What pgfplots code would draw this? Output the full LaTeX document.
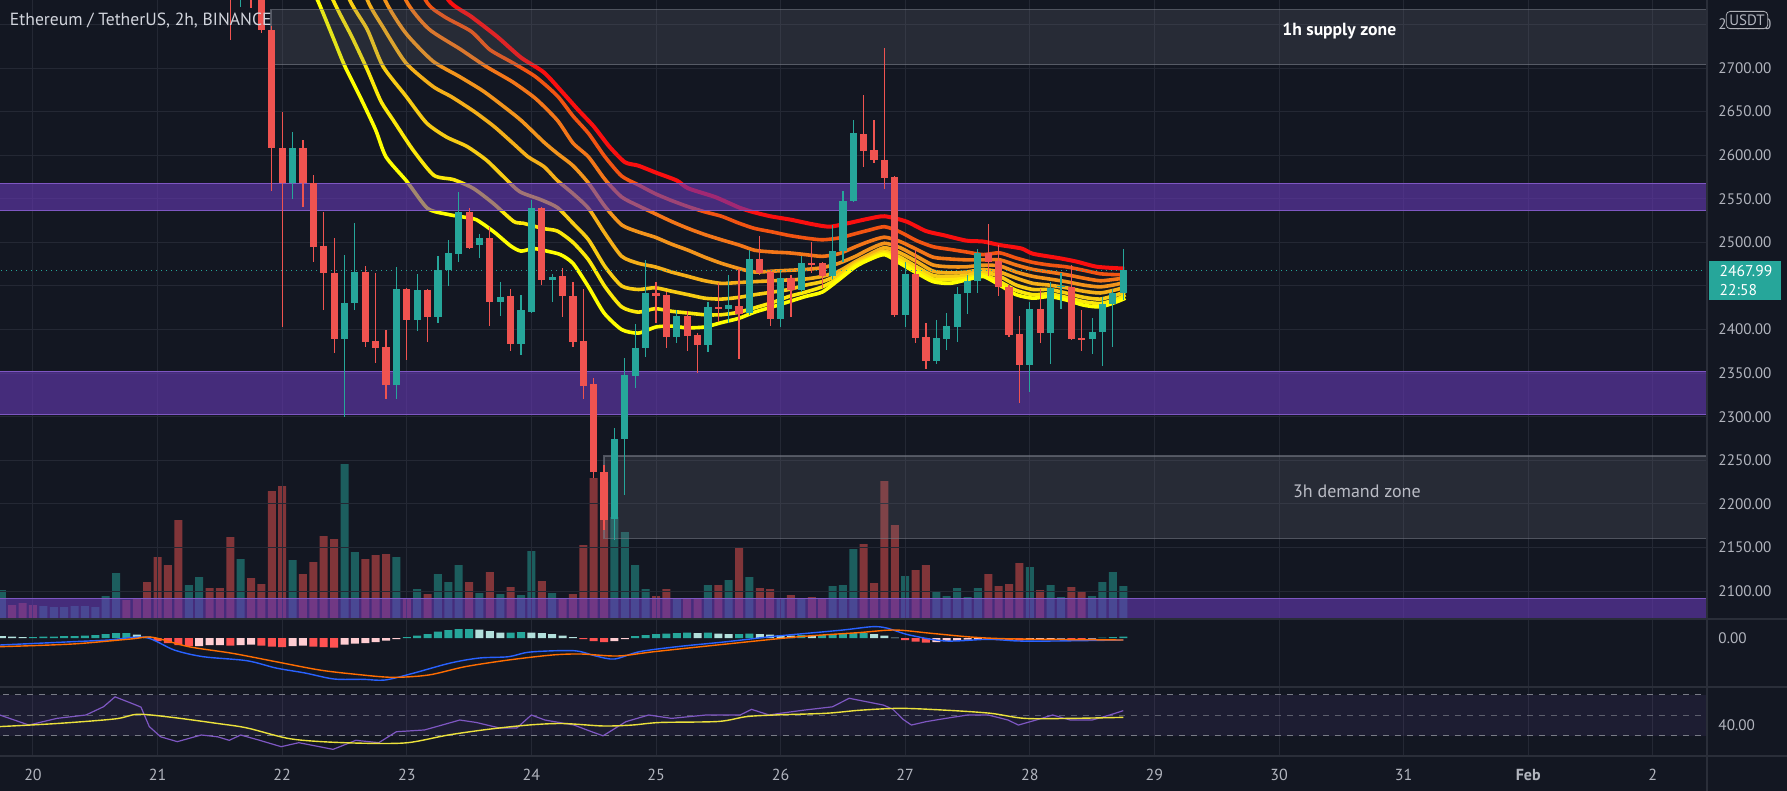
\documentclass[border=0pt]{standalone}
\usepackage{fontspec}
\setmainfont{PT Sans}
\usepackage{pgfplots}
\usepackage{pgfplotstable}
\pgfplotsset{compat=1.18}
\definecolor{bg}{RGB}{19,23,34}
\definecolor{gridc}{RGB}{36,40,52}
\definecolor{sepc}{RGB}{42,46,57}
\definecolor{txt}{RGB}{178,181,190}
\definecolor{titlec}{RGB}{209,212,220}
\definecolor{up}{RGB}{38,166,154}
\definecolor{down}{RGB}{239,83,80}
\definecolor{pband}{RGB}{103,58,183}
\definecolor{pedge}{RGB}{126,87,194}
\definecolor{zgray}{RGB}{120,123,134}
\definecolor{mblue}{RGB}{41,98,255}
\definecolor{morange}{RGB}{255,109,0}
\definecolor{hlight}{RGB}{178,223,219}
\definecolor{hpink}{RGB}{255,205,210}
\definecolor{hred}{RGB}{255,82,82}
\definecolor{rsip}{RGB}{126,87,194}
\definecolor{rsiy}{RGB}{235,225,60}
\definecolor{rA}{RGB}{255,255,0}
\definecolor{rB}{RGB}{252,232,10}
\definecolor{rC}{RGB}{248,204,20}
\definecolor{rD}{RGB}{245,175,25}
\definecolor{rE}{RGB}{243,148,28}
\definecolor{rF}{RGB}{243,118,25}
\definecolor{rG}{RGB}{242,84,18}
\definecolor{rH}{RGB}{250,15,15}

\pgfplotstableread{
c o h l cl
19 2810 2830 2732 2785
21 2800 2815 2769 2790
22 2790 2800 2740 2743.6
23 2743.6 2748 2559 2608.6
24 2608 2650 2403 2568
26 2608 2617 2541 2568
27 2568 2577 2478 2495
28 2496 2535 2423 2465
29 2465 2505 2373 2389
32 2466 2473 2380 2386
33 2387 2465 2362 2379
34 2380 2400 2320 2336
36 2447 2448 2365 2411
38 2445 2447 2386 2415
42 2535 2539 2493 2494
44 2505 2518 2404 2432
46 2438 2447 2376 2383
49 2540 2541 2451 2457
51 2461 2471 2415 2438
52 2439 2455 2380 2386
53 2387 2447 2320 2335
54 2338 2344 2230 2237
55 2237 2245 2170 2182
60 2442 2455 2407 2438
61 2440 2443 2379 2391
63 2416 2421 2376 2393
64 2394 2396 2350 2382
66 2426 2454 2409 2424
68 2427 2470 2366 2418
70 2481 2507 2463 2465
71 2466 2468 2404 2412
73 2459 2463 2414 2445
75 2476 2501 2465 2475
76 2476 2478 2448 2461
80 2624 2669 2587 2605
81 2606 2640 2591 2595
82 2595 2723 2561 2574
83 2575 2576 2414 2417
85 2464 2491 2385 2390
86 2391 2408 2355 2364
92 2488 2521 2461 2478
93 2479 2497 2438 2449
94 2449 2451 2391 2394
95 2395 2416 2316 2359
97 2424 2446 2385 2396
100 2449 2474 2388 2389
101 2390 2422 2375 2388
}\cdown
\pgfplotstableread{
c o h l cl
20 2785 2810 2770 2800
25 2568 2627 2550 2608
30 2389 2485 2300 2431
31 2431 2522 2423 2466
35 2336 2472 2320 2447
37 2411 2464 2398 2445
39 2415 2484 2407 2468
40 2468 2503 2450 2488
41 2487 2558 2478 2535
43 2497 2510 2482 2505
45 2432 2455 2416 2437
47 2383 2440 2371 2422
48 2420 2549 2419 2540
50 2457 2464 2432 2460
56 2183 2287 2159 2274
57 2274 2367 2210 2348
58 2347 2406 2333 2379
59 2379 2480 2369 2442
62 2391 2423 2385 2416
65 2382 2432 2374 2426
67 2424 2463 2408 2428
69 2419 2491 2417 2481
72 2412 2468 2403 2459
74 2445 2484 2443 2476
77 2462 2520 2458 2490
78 2490 2559 2478 2548
79 2548 2640 2546 2625
84 2417 2477 2403 2464
87 2364 2411 2361 2390
88 2389 2419 2377 2404
89 2403 2449 2386 2441
90 2442 2463 2418 2456
91 2456 2493 2442 2488
96 2359 2432 2329 2424
98 2396 2455 2360 2448
99 2449 2465 2424 2450
102 2389 2413 2372 2397
103 2397 2437 2358 2429
104 2429 2447 2380 2442
105 2442 2492 2434 2467.99
}\cup

\pgfplotstableread{
c v
-2 14
-1 16
0 14
9 19
10 20
11 37
12 62
13 54
14 99
17 31
18 31
19 82
21 41
22 35
23 128
24 133
26 45
27 57
28 83
29 80
32 60
33 64
34 65
36 20
38 25
42 37
44 47
46 32
49 38
51 21
52 25
53 74
54 141
55 137
60 23
61 30
63 20
64 20
66 34
68 72
70 31
71 30
73 24
75 22
76 20
80 75
81 36
82 138
83 94
85 49
86 54
92 45
93 33
94 35
95 56
97 29
100 32
101 28
}\vdown
\pgfplotstableread{
c v
-3 29
1 13
2 12
3 12
4 13
5 13
6 12
7 23
8 46
15 34
16 42
20 60
25 59
30 155
31 67
35 62
37 30
39 45
40 37
41 54
43 26
45 25
47 24
48 68
50 26
56 102
57 87
58 54
59 30
62 20
65 34
67 39
69 42
72 21
74 21
77 33
78 34
79 70
84 43
87 27
88 23
89 31
90 22
91 31
96 52
98 34
99 22
102 23
103 37
104 47
105 33
}\vup

% EMA ribbon lines
\pgfplotstableread{
c p
24 2870
26 2810
27.4 2778
29 2732
30 2703
31.5 2667
33 2629
34 2598
36 2570
38 2539
40 2532
41.5 2529
42.7 2526
44.4 2512
46 2496
47 2490
48.2 2493
49.5 2490
50.8 2486
52 2476
53.5 2449
55 2419
56.7 2400
58.3 2396
60 2403
61.5 2404
63 2402
64.7 2403
66.3 2408
68 2413
69.5 2420
71.2 2426
72.8 2432
74.4 2438
76 2443
77.6 2457
79.2 2472
80.5 2480
82 2486
83.5 2476
85.1 2465
86.7 2455
88.3 2453
89.9 2457
91.5 2461
93.1 2451
94.7 2440
96.3 2436
97.9 2438
99.5 2434
101.2 2428
102.8 2426
104.4 2432
105.2 2436
}\ribA
\pgfplotstableread{
c p
26 2860
28.9 2778
30.7 2736
32.2 2698
33.5 2662
34.7 2640
36.6 2606
38.6 2577
40.5 2572
42.4 2562
44.3 2545
46.3 2524
47.2 2522
49.1 2516
50.5 2513
52 2500
53.5 2480
55.1 2449
56.7 2426
58.3 2420
59.9 2424
61.5 2421
63.1 2419
64.7 2417
66.3 2417
68 2420
69.5 2425
71.2 2431
72.8 2438
74.4 2443
76 2449
77.6 2459
79.2 2474
80.5 2481
82 2488
83.5 2479
85.1 2468
86.7 2458
88.3 2457
89.9 2459
91.5 2463
93.1 2455
94.7 2445
96.3 2440
97.9 2441
99.5 2437
101.2 2432
102.8 2430
104.4 2435
105.2 2440
}\ribB
\pgfplotstableread{
c p
28 2850
30.5 2778
32.2 2744
33.7 2702
35.9 2668
37.9 2637
39.8 2621
41.8 2610
43.7 2594
45.6 2572
46.9 2558
48.9 2549
50.5 2540
52 2522
53.5 2503
55.1 2472
56.7 2450
58.3 2446
59.9 2448
61.5 2444
63.1 2440
64.7 2436
66.3 2435
68 2437
69.5 2440
71.2 2443
72.8 2446
74.4 2451
76 2455
77.6 2463
79.2 2476
80.5 2483
82 2490
83.5 2483
85.1 2472
86.7 2462
88.3 2461
89.9 2462
91.5 2466
93.1 2461
94.7 2451
96.3 2446
97.9 2446
99.5 2442
101.2 2437
102.8 2435
104.4 2440
105.2 2443.5
}\ribC
\pgfplotstableread{
c p
30 2850
32.2 2778
33.7 2747
35.9 2706
38.5 2679
40.3 2667
42.5 2650
44.4 2633
46.2 2614
47.7 2598
49.2 2587
50.5 2571
52 2556
53.5 2539
55.1 2510
56.7 2484
58.3 2476
59.9 2472
61.5 2466
63.1 2461
64.7 2456
66.3 2453
68 2454
69.5 2455
71.2 2456
72.8 2457
74.4 2458
76 2461
77.6 2467
79.2 2478
80.5 2486
82 2494
83.5 2488
85.1 2478
86.7 2467
88.3 2465
89.9 2466
91.5 2469
93.1 2466
94.7 2459
96.3 2453
97.9 2451
99.5 2448
101.2 2444
102.8 2442
104.4 2446
105.2 2449
}\ribD
\pgfplotstableread{
c p
31.5 2850
33.9 2778
35.9 2740
38.5 2708
41.1 2690
43.3 2674
45.1 2658
47 2640
49.2 2615
50.5 2602
52 2588
53.5 2568
55.1 2541
56.7 2520
58.3 2512
59.9 2506
61.5 2498
63.1 2491
64.7 2483
66.3 2476
68 2470
69.5 2466
71.2 2467
72.8 2468
74.4 2469
76 2471
77.6 2476
79.2 2484
80.5 2492
82 2499
83.5 2494
85.1 2484
86.7 2474
88.3 2472
89.9 2472
91.5 2474
93.1 2473
94.7 2466
96.3 2461
97.9 2458
99.5 2455
101.2 2451
102.8 2449
104.4 2452
105.2 2455
}\ribE
\pgfplotstableread{
c p
33.5 2850
35.9 2778
38.1 2745
41.1 2722
43.6 2702
46.2 2684
48.4 2665
50.5 2640
52 2614
53.5 2598
55.1 2572
56.7 2552
58.3 2542
59.9 2533
61.5 2524
63.1 2516
64.7 2509
66.3 2503
68 2497
69.5 2491
71.2 2489
72.8 2488
74.4 2486
76 2484
77.6 2487
79.2 2495
80.5 2501
82 2506
83.5 2501
85.1 2492
86.7 2483
88.3 2481
89.9 2480
91.5 2480
93.1 2480
94.7 2474
96.3 2469
97.9 2466
99.5 2463
101.2 2459
102.8 2456
104.4 2458
105.2 2459
}\ribF
\pgfplotstableread{
c p
35.5 2850
37.8 2778
39.6 2759
42.2 2742
44 2721
46.2 2706
48.4 2690
50.5 2668
52 2645
53.5 2625
55.1 2598
56.7 2576
58.3 2566
59.9 2556
61.5 2548
63.1 2541
64.7 2535
66.3 2530
68 2522
69.5 2516
71.2 2512
72.8 2508
74.4 2505
76 2503
77.6 2505
79.2 2510
80.5 2514
82 2518
83.5 2512
85.1 2502
86.7 2495
88.3 2492
89.9 2489
91.5 2486
93.1 2488
94.7 2482
96.3 2477
97.9 2474
99.5 2472
101.2 2468
102.8 2464
104.4 2463
105.2 2463
}\ribG
\pgfplotstableread{
c p
38 2830
40 2778
42.2 2759
44.7 2736
47 2712
49.2 2695
51 2672
52.5 2652
54 2633
55.5 2610
57 2592
58.3 2588
60 2580
62 2571
63.1 2562
65.7 2552
68 2540
69.3 2535
71 2530
73 2526
75 2521
76.7 2518
78.5 2522
80.4 2527
82 2530
84.1 2524
86 2513
87.8 2508
89.9 2502
91.5 2501
93.1 2497
95.2 2493
96.3 2487
98.8 2482
100.5 2478
102.5 2472
105.1 2470
}\ribH

% MACD histogram (by colour) and lines
\pgfplotstableread{
c v
0 1
1 1.5
2 1.5
3 2
4 2
5 2.5
6 3
7 4
8 5
9 5
36 1
37 2.5
38 4
39 6.5
40 8
41 9
42 9
46 5.5
47 6
58 2
59 3
60 4
61 4.5
62 5
63 5.5
65 5.5
68 4
69 4.5
74 3
76 3
77 3.5
78 4
79 5
80 5
103 0.5
104 1
105 1.5
}\hteal
\pgfplotstableread{
c v
-3 2
-2 1.5
-1 1
10 3.5
11 1.5
43 8.5
44 7
45 5.5
48 5.5
49 5
50 4
51 2.5
52 1
64 5
66 4.5
67 4
70 4
71 3.5
72 3
73 2.5
75 2.5
81 4
82 2.5
83 0.5
}\hlighttab
\pgfplotstableread{
c v
12 -3
13 -5
14 -7
15 -8
19 -7.5
22 -7.5
23 -8.5
24 -9
27 -8.5
28 -9
29 -9.5
53 -1
54 -3
55 -4
84 -2
85 -3.5
86 -4.5
92 -1.5
93 -2
94 -2
95 -2.5
100 -1
101 -1
}\hredtab
\pgfplotstableread{
c v
16 -8
17 -7
18 -7
20 -7
21 -6.5
25 -8
26 -7.5
30 -6.5
31 -5.5
32 -5
33 -4
34 -2.5
35 -1
56 -3
57 -1
87 -4
88 -3
89 -2.5
90 -1.5
91 -1
96 -2
97 -1.5
98 -1
99 -0.5
102 -0.5
}\hpinktab
\pgfplotstableread{
c v
-3.2 -7
3.8 -3.7
7.3 -2
10.8 0.7
13.6 -12
16.4 -18.7
20.6 -22.7
23.4 -30
26.2 -35
29 -41
31.8 -41.3
33.9 -42
36.7 -35
40.2 -25
43 -20
45.8 -18.7
47.9 -14
52.1 -12.7
54.2 -18
56 -21
58.4 -13.7
62 -8.7
66.8 -3.7
71 1.3
73.8 4
78 8
80.8 11.3
82.2 10
84.4 3
87.9 -3
92 -1.3
94.9 -3
98.4 -3
105 -2
}\macdline
\pgfplotstableread{
c v
-3.2 -8.7
3.8 -6
9.4 -1
11.5 0.7
15 -8.7
19.2 -15.3
23.4 -23.7
27.6 -32
31.1 -36.3
34.6 -39.3
38.1 -37
41.6 -28.7
45.8 -22
50 -17
52.8 -16
56.3 -18
59.8 -13.7
66.8 -6
73.8 1.3
79.4 5.3
83 8
86.5 4.7
90.7 0.7
94.9 -1
105 -2
}\sigline

% RSI and its average
\pgfplotstableread{
c v
-3.2 50.3
-0.4 40.5
2.3 47
5.1 50.3
6.8 58.4
7.9 68
9.5 61.7
10.4 58
11.2 39
12.3 29
13.9 24.3
16.2 30.8
17.8 29
18.9 25.6
20 30.8
21.7 26
23.9 19.4
25.6 23.3
28.9 16.8
31.1 25.6
33.3 23.3
35 34
37.7 35.7
39.4 40.5
41.1 45.4
42.7 43
44.9 37.7
46.6 37.7
48 50.3
49.3 45.4
52.1 40.5
53.8 34
54.9 30
57.1 43.8
59.3 50.3
61.5 47
63.2 48.7
64.8 50.3
68.1 50.3
69.2 55.8
70.9 50.3
72 52
74.2 55
77 58.3
78.6 66.6
81.9 60
82.8 56
83.8 46
84.6 40.5
86 43.8
87.9 47
90 50.3
92 50.3
93.9 45.4
94.9 40.5
96.6 45.4
98.2 50.3
99.9 45.4
102 45.4
103.7 50.3
105 54.5
}\rsiline
\pgfplotstableread{
c v
-3.2 39
2.3 42
7.9 46.5
10.1 51
13.4 48
17.8 42
20.6 37.7
24.5 27.6
27.8 24.3
32.2 22.7
36.1 23.3
40 30.8
43.8 36.3
47.7 40.5
51 42
54.9 39.6
57.7 40.5
60.4 43
66 44
68.7 48.7
71.4 50.3
76.4 52
79.7 55
83.5 56.8
87.9 55
92.2 52
95.5 47
99.9 47
105 48
}\rsima

\pgfplotsset{
  tvaxis/.style={scale only axis, anchor=north west, width=853.5pt,
    xmin=-3.178, xmax=161.22, axis line style={draw=none},
    major tick length=0pt, xtick={0,12,...,156}, xticklabels={},
    yticklabel pos=right,
    yticklabel style={anchor=west, xshift=2.2pt, text=txt, font=\fontsize{7.6}{9}\selectfont},
    major grid style={draw=gridc, line width=0.5pt}},
  wick/.style={draw=none, mark=none, forget plot, error bars/.cd, y dir=both, y explicit, error mark=none,
    error bar style={draw=#1, line width=0.6pt}},
  body/.style={draw=none, mark=none, forget plot, error bars/.cd, y dir=both, y explicit, error mark=none,
    error bar style={draw=#1, line width=3.6pt}},
}

\begin{document}
\begin{tikzpicture}
\fill[bg] (0pt,0pt) rectangle (893.5pt,-395.5pt);

% volume
\begin{axis}[tvaxis, at={(0pt,0pt)}, height=309.5pt, ymin=0, ymax=619, ytick=\empty, yticklabels={}]
\addplot[ybar, bar width=4pt, fill=down, fill opacity=0.5, draw=none] table[x=c,y=v]{\vdown};
\addplot[ybar, bar width=4pt, fill=up, fill opacity=0.5, draw=none] table[x=c,y=v]{\vup};
\end{axis}

% price pane
\begin{axis}[tvaxis, at={(0pt,0pt)}, height=309.5pt, ymin=2068.1, ymax=2778,
  ytick={2100,2150,...,2750},
  yticklabels={2100.00,2150.00,2200.00,2250.00,2300.00,2350.00,2400.00,{},2500.00,2550.00,2600.00,2650.00,2700.00,2750.00},
  grid=major]
\addplot[rH, line width=2pt, smooth, tension=0.4] table[x=c,y=p]{\ribH};
\addplot[rG, line width=1.8pt, smooth, tension=0.4] table[x=c,y=p]{\ribG};
\addplot[rF, line width=1.8pt, smooth, tension=0.4] table[x=c,y=p]{\ribF};
\addplot[rE, line width=1.8pt, smooth, tension=0.4] table[x=c,y=p]{\ribE};
\addplot[rD, line width=1.8pt, smooth, tension=0.4] table[x=c,y=p]{\ribD};
\addplot[rC, line width=1.8pt, smooth, tension=0.4] table[x=c,y=p]{\ribC};
\addplot[rB, line width=1.8pt, smooth, tension=0.4] table[x=c,y=p]{\ribB};
\addplot[rA, line width=1.8pt, smooth, tension=0.4] table[x=c,y=p]{\ribA};
% purple levels
\addplot[draw=pedge, line width=0.6pt, fill=pband, fill opacity=0.6] coordinates {(-4,2537) (162,2537) (162,2568) (-4,2568)} -- cycle;
\addplot[draw=pedge, line width=0.6pt, fill=pband, fill opacity=0.6] coordinates {(-4,2303) (162,2303) (162,2352) (-4,2352)} -- cycle;
\addplot[draw=pedge, line width=0.6pt, fill=pband, fill opacity=0.6] coordinates {(-4,2040) (162,2040) (162,2092) (-4,2092)} -- cycle;
% zones
\addplot[draw=zgray, draw opacity=0.6, line width=0.6pt, fill=zgray, fill opacity=0.2] coordinates {(22.92,2704) (162,2704) (162,2767) (22.92,2767)} -- cycle;
\addplot[draw=zgray, draw opacity=0.6, line width=0.6pt, fill=zgray, fill opacity=0.2] coordinates {(55,2160.6) (162,2160.6) (162,2255) (55,2255)} -- cycle;
\addplot[up, dotted, line width=0.5pt] coordinates {(-4,2467.99) (162,2467.99)};
% candles
\addplot[wick=down] table[x=c, y expr={(\thisrow{h}+\thisrow{l})/2}, y error expr={(\thisrow{h}-\thisrow{l})/2}]{\cdown};
\addplot[wick=up] table[x=c, y expr={(\thisrow{h}+\thisrow{l})/2}, y error expr={(\thisrow{h}-\thisrow{l})/2}]{\cup};
\addplot[body=down] table[x=c, y expr={(\thisrow{o}+\thisrow{cl})/2}, y error expr={max(abs(\thisrow{o}-\thisrow{cl})/2,0.6)}]{\cdown};
\addplot[body=up] table[x=c, y expr={(\thisrow{o}+\thisrow{cl})/2}, y error expr={max(abs(\thisrow{o}-\thisrow{cl})/2,0.6)}]{\cup};
\node[text=white, font=\bfseries\fontsize{8.8}{10}\selectfont] at (axis cs:125.8,2742.4) {1h supply zone};
\node[text=txt!90!white, font=\fontsize{9}{10}\selectfont] at (axis cs:127.5,2214.9) {3h demand zone};
\end{axis}

% MACD pane
\begin{axis}[tvaxis, at={(0pt,-309.5pt)}, height=34pt, ymin=-49, ymax=19,
  ytick={0}, yticklabels={0.00}, xmajorgrids]
\addplot[ybar, bar width=4pt, fill=up, draw=none] table[x=c,y=v]{\hteal};
\addplot[ybar, bar width=4pt, fill=hlight, draw=none] table[x=c,y=v]{\hlighttab};
\addplot[ybar, bar width=4pt, fill=hred, draw=none] table[x=c,y=v]{\hredtab};
\addplot[ybar, bar width=4pt, fill=hpink, draw=none] table[x=c,y=v]{\hpinktab};
\addplot[mblue, line width=0.7pt, smooth] table[x=c,y=v]{\macdline};
\addplot[morange, line width=0.7pt, smooth] table[x=c,y=v]{\sigline};
\end{axis}

% RSI pane
\begin{axis}[tvaxis, at={(0pt,-343.5pt)}, height=34.5pt, ymin=10.3, ymax=77.6,
  ytick={40}, yticklabels={40.00}, xmajorgrids,
  xticklabels={20,21,22,23,24,25,26,27,28,29,30,31,\textbf{Feb},2},
  xticklabel style={text=txt, font=\fontsize{8}{9}\selectfont, yshift=-3pt}]
\addplot[draw=none, fill=rsip, fill opacity=0.1] coordinates {(-4,30) (162,30) (162,70) (-4,70)} -- cycle;
\addplot[zgray, dashed, line width=0.5pt] coordinates {(-4,70) (162,70)};
\addplot[zgray, dashed, line width=0.5pt, opacity=0.7] coordinates {(-4,50) (162,50)};
\addplot[zgray, dashed, line width=0.5pt] coordinates {(-4,30) (162,30)};
\addplot[rsip, line width=0.6pt] table[x=c,y=v]{\rsiline};
\addplot[rsiy, line width=0.7pt, smooth] table[x=c,y=v]{\rsima};
\end{axis}

% pane separators and price-scale border
\draw[sepc, line width=1pt] (0pt,-309.5pt) -- (893.5pt,-309.5pt);
\draw[sepc, line width=1pt] (0pt,-343.5pt) -- (893.5pt,-343.5pt);
\draw[sepc, line width=1pt] (0pt,-378pt) -- (893.5pt,-378pt);
\draw[sepc, line width=0.8pt] (853.5pt,0pt) -- (853.5pt,-395.5pt);

% last price label
\fill[up] (854.5pt,-130.5pt) rectangle (890.5pt,-150pt);
\node[anchor=west, text=white, font=\fontsize{7.8}{9}\selectfont, inner sep=0pt] at (859.6pt,-135.5pt) {2467.99};
\node[anchor=west, text=white, font=\fontsize{7.8}{9}\selectfont, inner sep=0pt] at (859.6pt,-145pt) {22:58};
% currency badge
\node[draw=zgray!60, fill=bg, rounded corners=2pt, text=txt, font=\fontsize{7.5}{9}\selectfont, inner sep=1.6pt] at (873.5pt,-10pt) {USDT};
% title
\node[anchor=west, text=titlec, font=\fontsize{8.8}{10}\selectfont, inner sep=0pt] at (4.8pt,-10.5pt) {Ethereum / TetherUS, 2h, BINANCE};

\pgfresetboundingbox
\useasboundingbox (0pt,0pt) rectangle (893.5pt,-395.5pt);
\end{tikzpicture}
\end{document}
